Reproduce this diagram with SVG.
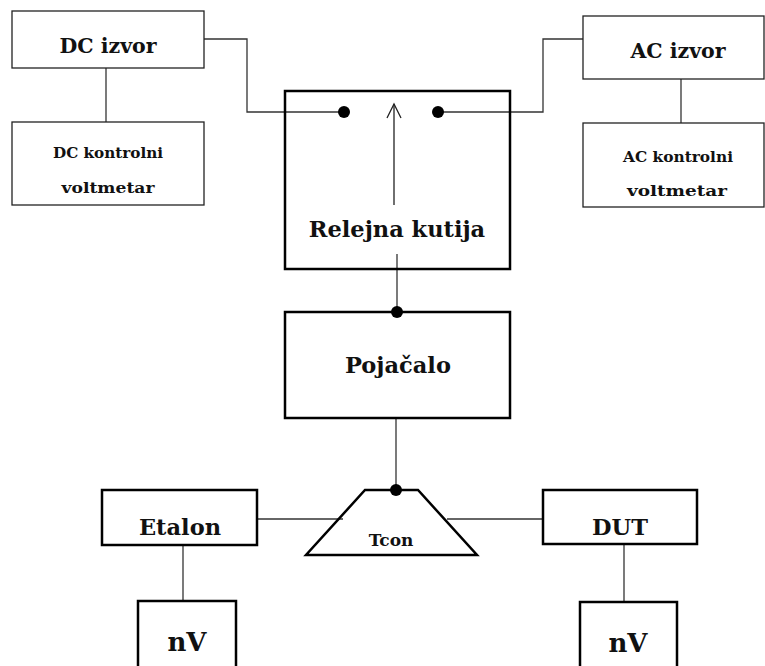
<svg xmlns="http://www.w3.org/2000/svg" width="765" height="666" viewBox="0 0 765 666">
<defs>
<style>
.thin{fill:#fff;stroke:#222;stroke-width:1.3}
.thick{fill:none;stroke:#000;stroke-width:2.5}
.wire{fill:none;stroke:#333;stroke-width:1.3}
.dot{fill:#000}
text{font-family:"DejaVu Serif","Liberation Serif",serif;font-weight:bold;fill:#111;text-anchor:middle}
.mid{font-size:20.5px}
.big{font-size:22.5px}
.sm{font-size:15.5px}
.tc{font-size:17px}
.nv{font-size:26px}
</style>
</defs>
<rect width="765" height="666" fill="#fff"/>
<g id="connectors">
<polyline class="wire" points="204,39 247,39 247,112 344,112"/>
<polyline class="wire" points="438,112 543,112 543,39 583,39"/>
<line class="wire" x1="106" y1="68" x2="106" y2="122"/>
<line class="wire" x1="681" y1="79" x2="681" y2="123"/>
<line class="wire" x1="397" y1="254" x2="397" y2="312"/>
<line class="wire" x1="396" y1="418" x2="396" y2="490"/>
<line class="wire" x1="257" y1="519" x2="343" y2="519"/>
<line class="wire" x1="447" y1="519" x2="543" y2="519"/>
<line class="wire" x1="183" y1="545" x2="183" y2="601"/>
<line class="wire" x1="624" y1="544" x2="624" y2="602"/>
</g>
<g id="dc-izvor">
<rect class="thin" x="12" y="11" width="192" height="57"/>
<text class="mid" x="108" y="53">DC izvor</text>
</g>
<g id="dc-voltmetar">
<rect class="thin" x="12" y="122" width="192" height="83"/>
<text class="sm" x="108" y="158" textLength="110" lengthAdjust="spacingAndGlyphs">DC kontrolni</text>
<text class="sm" x="108" y="193" textLength="93" lengthAdjust="spacingAndGlyphs">voltmetar</text>
</g>
<g id="ac-izvor">
<rect class="thin" x="583" y="16" width="181" height="63"/>
<text class="mid" x="678" y="58">AC izvor</text>
</g>
<g id="ac-voltmetar">
<rect class="thin" x="583" y="123" width="181" height="84"/>
<text class="sm" x="678" y="162" textLength="110" lengthAdjust="spacingAndGlyphs">AC kontrolni</text>
<text class="sm" x="677" y="196" textLength="100" lengthAdjust="spacingAndGlyphs">voltmetar</text>
</g>
<g id="relejna-kutija">
<rect class="thick" x="285" y="91" width="225" height="178"/>
<circle class="dot" cx="344" cy="112" r="6"/>
<circle class="dot" cx="438" cy="112" r="6"/>
<line x1="394" y1="205" x2="394" y2="104" stroke="#222" stroke-width="1.3"/>
<polyline points="387,118 394,104 401,118" fill="none" stroke="#222" stroke-width="1.3"/>
<text class="big" x="397" y="237">Relejna kutija</text>
</g>
<g id="pojacalo">
<rect class="thick" x="285" y="312" width="225" height="106"/>
<circle class="dot" cx="397" cy="312" r="6"/>
<text class="big" x="398" y="373">Pojačalo</text>
</g>
<g id="tcon">
<polygon class="thick" points="365,490 418,490 477,555 306,555"/>
<circle class="dot" cx="396" cy="490" r="6"/>
<text class="tc" x="391" y="546">Tcon</text>
</g>
<g id="etalon">
<rect class="thick" x="102" y="490" width="155" height="55"/>
<text class="big" x="180" y="535">Etalon</text>
</g>
<g id="dut">
<rect class="thick" x="543" y="490" width="154" height="54"/>
<text class="big" x="620" y="535">DUT</text>
</g>
<g id="nv-etalon">
<rect class="thick" x="138" y="601" width="98" height="80"/>
<text class="nv" x="187" y="651">nV</text>
</g>
<g id="nv-dut">
<rect class="thick" x="580" y="602" width="97" height="80"/>
<text class="nv" x="628" y="652">nV</text>
</g>
</svg>
